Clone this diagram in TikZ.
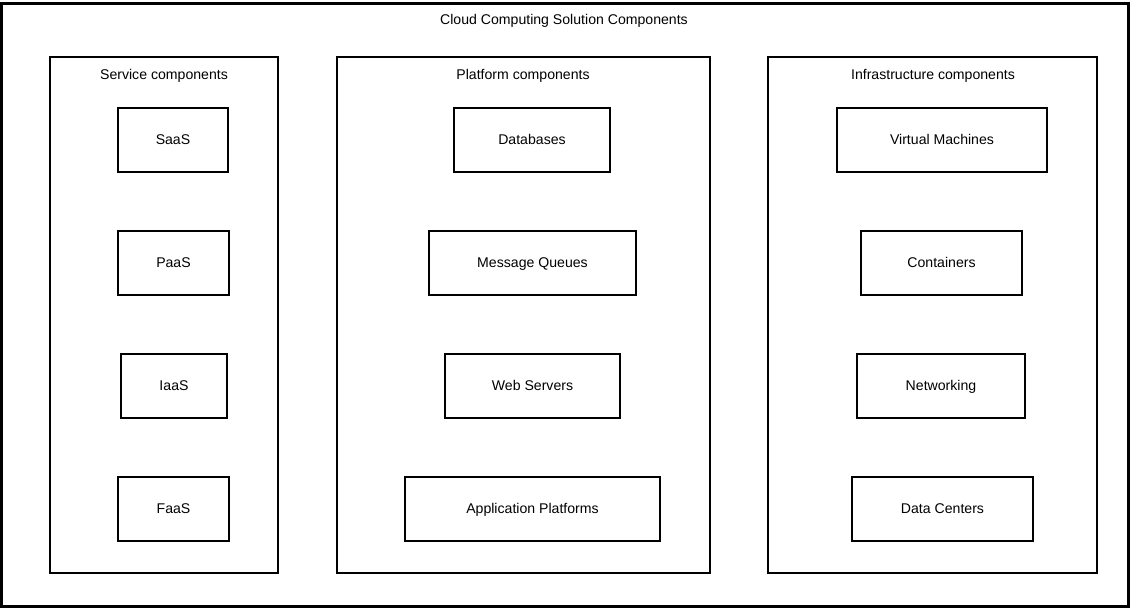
\documentclass[tikz,border=0pt]{standalone}
\usepackage{fontspec}
\setmainfont{Liberation Sans}
\begin{document}
\begin{tikzpicture}[x=1pt,y=-1pt,
  box/.style={draw=black,line width=2.2pt,rectangle,inner sep=0pt,text height=10pt,text depth=0pt,font=\fontsize{14.1}{16}\selectfont},
  grp/.style={draw=black,line width=2.2pt,rectangle,inner sep=0pt},
  lbl/.style={font=\fontsize{14.1}{16}\selectfont,inner sep=0pt,text height=10pt,text depth=0pt}]
\useasboundingbox (0,0) rectangle (1136,609);
\fill[white] (0,0) rectangle (1136,609);
% outer
\node[grp,minimum width=1127pt,minimum height=603pt] (outer) at (565,305) {};
\node[lbl] (title) at (564,19.5) {Cloud Computing Solution Components};
% groups
\node[grp,minimum width=228pt,minimum height=516pt] (svc) at (164,315) {};
\node[lbl] (svcl) at (164,74.5) {Service components};
\node[grp,minimum width=373pt,minimum height=516pt] (plat) at (523.5,315) {};
\node[lbl] (platl) at (523,74.5) {Platform components};
\node[grp,minimum width=329pt,minimum height=516pt] (infra) at (932.5,315) {};
\node[lbl] (infral) at (933,74.5) {Infrastructure components};
% service
\node[box,minimum width=110pt,minimum height=64pt] (saas) at (173,140) {SaaS};
\node[box,minimum width=111pt,minimum height=64pt] (paas) at (173.5,263) {PaaS};
\node[box,minimum width=106pt,minimum height=64pt] (iaas) at (174,386) {IaaS};
\node[box,minimum width=111pt,minimum height=64pt] (faas) at (173.5,509) {FaaS};
% platform
\node[box,minimum width=156pt,minimum height=64pt] (db) at (532,140) {Databases};
\node[box,minimum width=207pt,minimum height=64pt] (mq) at (532.5,263) {Message Queues};
\node[box,minimum width=175pt,minimum height=64pt] (ws) at (532.5,386) {Web Servers};
\node[box,minimum width=255pt,minimum height=64pt] (ap) at (532.5,509) {Application Platforms};
% infrastructure
\node[box,minimum width=210pt,minimum height=64pt] (vm) at (942,140) {Virtual Machines};
\node[box,minimum width=161pt,minimum height=64pt] (ct) at (941.5,263) {Containers};
\node[box,minimum width=168pt,minimum height=64pt] (nw) at (941,386) {Networking};
\node[box,minimum width=181pt,minimum height=64pt] (dc) at (942.5,509) {Data Centers};
\end{tikzpicture}
\end{document}
